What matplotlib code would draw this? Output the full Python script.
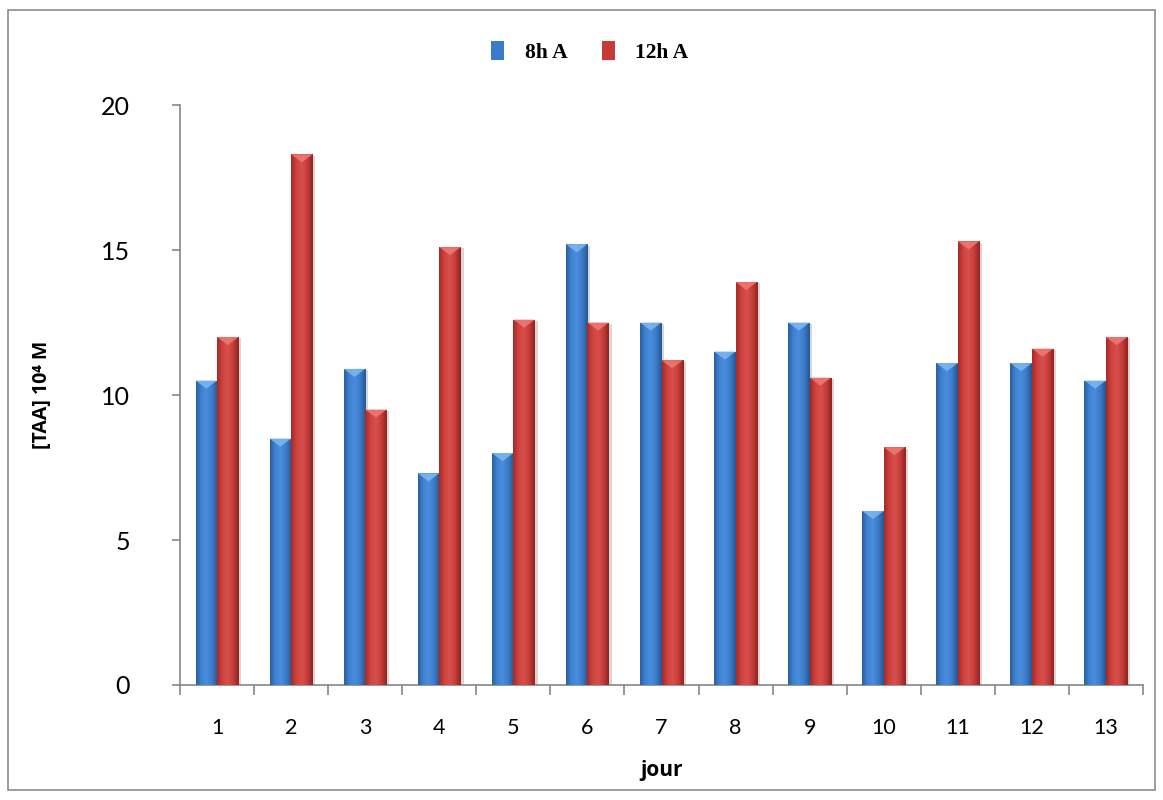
#! /usr/bin/env python3

import numpy as np
import matplotlib
matplotlib.use("Agg")
import matplotlib.pyplot as plt
from matplotlib.patches import Patch, Polygon, Rectangle
from matplotlib.colors import LinearSegmentedColormap
import matplotlib.patheffects as pe

jours = ["1", "2", "3", "4", "5", "6", "7", "8", "9", "10", "11", "12", "13"]
taa_8h = [10.5, 8.5, 10.9, 7.3, 8.0, 15.2, 12.5, 11.5, 12.5, 6.0, 11.1, 11.1, 10.5]
taa_12h = [12.0, 18.3, 9.5, 15.1, 12.6, 12.5, 11.2, 13.9, 10.6, 8.2, 15.3, 11.6, 12.0]
series_names = ["8h A", "12h A"]

blue_cmap = LinearSegmentedColormap.from_list("b", ["#2c5f9e", "#3f84d4", "#4a8ddc", "#3b7bc8", "#275590"])
red_cmap = LinearSegmentedColormap.from_list("r", ["#a32a28", "#d04340", "#d8504b", "#c53c39", "#8f2321"])
gradient = np.linspace(0, 1, 64).reshape(1, -1)


def gradient_bars(ax, xs, values, width, cmap, top_color):
    bars = ax.bar(xs, values, width, color=cmap(0.5), linewidth=0, zorder=2,
                  path_effects=[pe.SimplePatchShadow(offset=(2, -1), alpha=0.18), pe.Normal()])
    for bar, v in zip(bars, values):
        x0 = bar.get_x()
        w = bar.get_width()
        im = ax.imshow(gradient, cmap=cmap, aspect="auto", extent=(x0, x0 + w, 0, v),
                       zorder=3, interpolation="bicubic")
        im.set_clip_path(bar)
        bevel = Polygon([(x0, v), (x0 + w, v), (x0 + w * 0.5, v - 0.28)], closed=True,
                        facecolor=top_color, edgecolor="none", alpha=0.85, zorder=4)
        ax.add_patch(bevel)
    return bars


def main():
    fig = plt.figure(figsize=(11.63, 8), dpi=100)
    ax = fig.add_axes([0.1548, 0.14375, 0.828, 0.725])

    fig.patches.append(Rectangle((8 / 1163, 10 / 800), 1147 / 1163, 780 / 800, transform=fig.transFigure,
                                 fill=False, edgecolor="#8c8c8c", linewidth=1.2))

    x = np.arange(len(jours))
    w = 0.29
    gradient_bars(ax, x - w / 2, taa_8h, w, blue_cmap, "#7fb8f0")
    gradient_bars(ax, x + w / 2, taa_12h, w, red_cmap, "#ef7a76")

    ax.set_xlim(-0.5, len(jours) - 0.5)
    ax.set_ylim(0, 20)
    ax.set_yticks([0, 5, 10, 15, 20])

    ax.set_xticks(np.arange(len(jours) + 1) - 0.5)
    ax.set_xticklabels([])
    ax.set_xticks(x, minor=True)
    ax.set_xticklabels(jours, minor=True)
    ax.tick_params(axis="x", which="major", length=7, color="#868686", width=1.2)
    ax.tick_params(axis="x", which="minor", length=0, pad=24, labelsize=15.5)
    ax.tick_params(axis="y", length=6, color="#868686", width=1.2, pad=30, labelsize=18)

    for lab in ax.get_xticklabels(minor=True) + ax.get_yticklabels():
        lab.set_family("Lato")

    for side in ("top", "right"):
        ax.spines[side].set_visible(False)
    for side in ("left", "bottom"):
        ax.spines[side].set_color("#868686")
        ax.spines[side].set_linewidth(1.2)

    ax.set_xlabel("jour", fontsize=15, fontweight="bold", family=["Open Sans", "DejaVu Sans"])
    ax.xaxis.set_label_coords(0.5, -0.13)
    ax.set_ylabel("[TAA] 10⁴ M", fontsize=14, fontweight="bold", family=["Open Sans", "DejaVu Sans"])
    ax.yaxis.set_label_coords(-0.133, 0.5)

    handles = [Patch(facecolor="#3a7ccc", edgecolor="none"), Patch(facecolor="#c83a37", edgecolor="none")]
    fig.legend(handles, series_names, loc="center", bbox_to_anchor=(0.507, 0.935), ncol=2, frameon=False,
               prop={"family": "Liberation Serif", "weight": "bold", "size": 15.5},
               handlelength=0.6, handleheight=1.0, handletextpad=0.95, columnspacing=1.6)

    fig.savefig("out.png", dpi=100)


if __name__ == "__main__":
    main()
